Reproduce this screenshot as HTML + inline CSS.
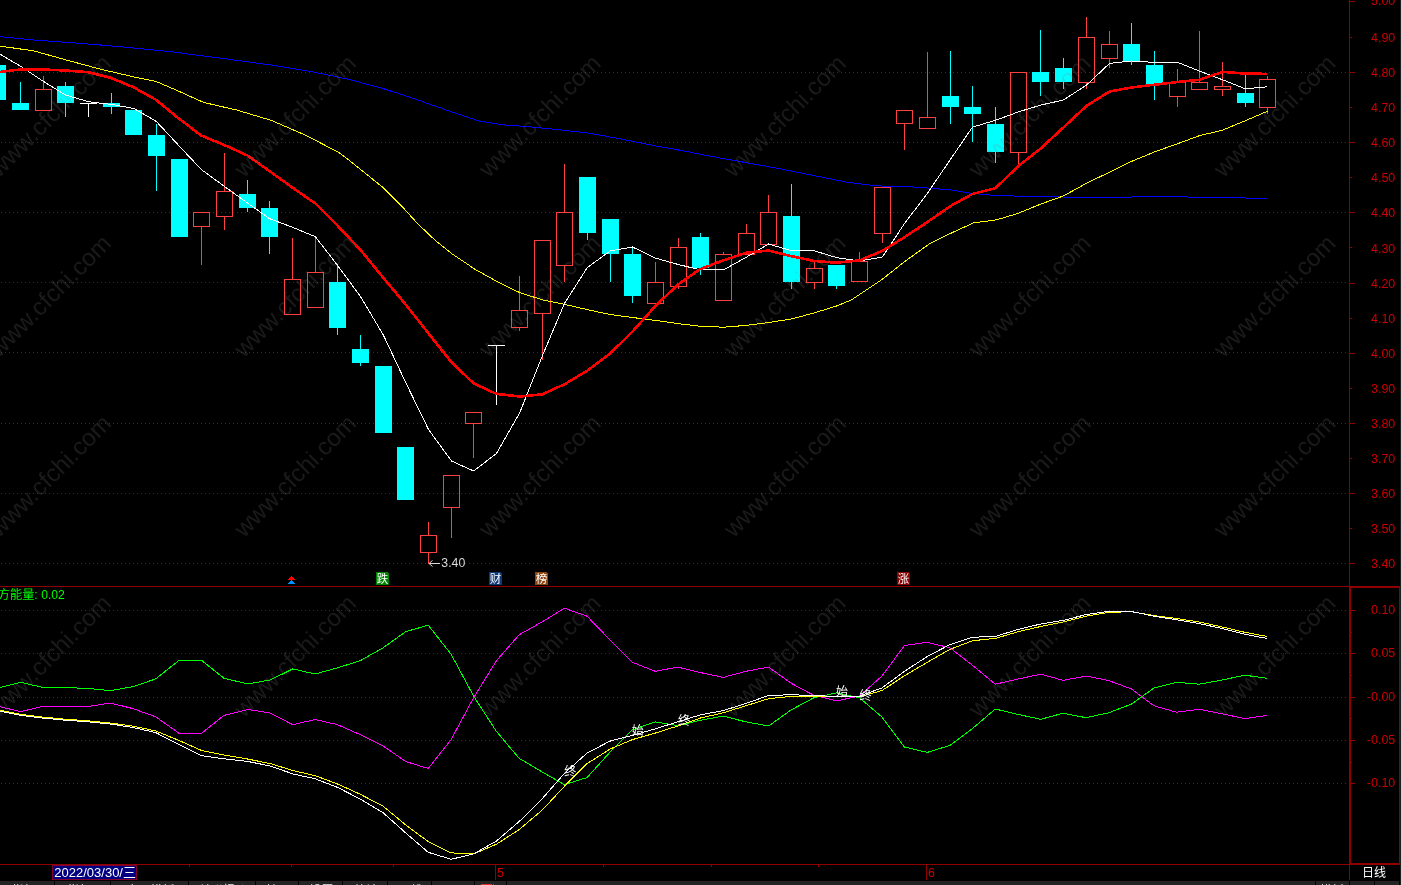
<!DOCTYPE html>
<html lang="zh"><head><meta charset="utf-8"><title>K线图</title>
<style>html,body{margin:0;padding:0;background:#000;width:1401px;height:885px;overflow:hidden}</style></head>
<body>
<svg width="1401" height="885" viewBox="0 0 1401 885" shape-rendering="crispEdges" style="position:absolute;left:0;top:0;font-family:'Liberation Sans','Noto Sans CJK SC',sans-serif">
<rect width="1401" height="885" fill="#000"/>
<g stroke="#a80000" stroke-width="1" stroke-dasharray="1 3">
<line x1="1" x2="1349" y1="72.5" y2="72.5"/>
<line x1="1" x2="1349" y1="142.5" y2="142.5"/>
<line x1="1" x2="1349" y1="212.5" y2="212.5"/>
<line x1="1" x2="1349" y1="282.5" y2="282.5"/>
<line x1="1" x2="1349" y1="352.5" y2="352.5"/>
<line x1="1" x2="1349" y1="423.5" y2="423.5"/>
<line x1="1" x2="1349" y1="493.5" y2="493.5"/>
<line x1="1" x2="1349" y1="563.5" y2="563.5"/>
<line x1="1" x2="1349" y1="610.5" y2="610.5"/>
<line x1="1" x2="1349" y1="653.5" y2="653.5"/>
<line x1="1" x2="1349" y1="697.5" y2="697.5"/>
<line x1="1" x2="1349" y1="740.5" y2="740.5"/>
<line x1="1" x2="1349" y1="783.5" y2="783.5"/>
</g>
<g fill="#900000">
<rect x="1349" y="0" width="1" height="880"/>
<rect x="0" y="586" width="1400" height="1"/>
<rect x="0" y="864" width="1400" height="1"/>
<rect x="1350" y="587" width="1" height="277"/>
<rect x="1350" y="587" width="50" height="1"/>
<rect x="1350" y="863" width="50" height="1"/>
<rect x="1399" y="586" width="1" height="279"/>
<rect x="1350" y="1" width="5" height="1"/>
<rect x="1350" y="37" width="2" height="1"/>
<rect x="1350" y="72" width="5" height="1"/>
<rect x="1350" y="107" width="2" height="1"/>
<rect x="1350" y="142" width="5" height="1"/>
<rect x="1350" y="177" width="2" height="1"/>
<rect x="1350" y="212" width="5" height="1"/>
<rect x="1350" y="247" width="2" height="1"/>
<rect x="1350" y="283" width="5" height="1"/>
<rect x="1350" y="318" width="2" height="1"/>
<rect x="1350" y="353" width="5" height="1"/>
<rect x="1350" y="388" width="2" height="1"/>
<rect x="1350" y="423" width="5" height="1"/>
<rect x="1350" y="458" width="2" height="1"/>
<rect x="1350" y="493" width="5" height="1"/>
<rect x="1350" y="528" width="2" height="1"/>
<rect x="1350" y="563" width="5" height="1"/>
<rect x="1351" y="610" width="4" height="1"/>
<rect x="1351" y="632" width="1" height="1"/>
<rect x="1351" y="653" width="4" height="1"/>
<rect x="1351" y="675" width="1" height="1"/>
<rect x="1351" y="697" width="4" height="1"/>
<rect x="1351" y="718" width="1" height="1"/>
<rect x="1351" y="740" width="4" height="1"/>
<rect x="1351" y="762" width="1" height="1"/>
<rect x="1351" y="783" width="4" height="1"/>
<rect x="189" y="865" width="1" height="2"/>
<rect x="291" y="865" width="1" height="2"/>
<rect x="393" y="865" width="1" height="2"/>
<rect x="603" y="865" width="1" height="2"/>
<rect x="711" y="865" width="1" height="2"/>
<rect x="818" y="865" width="1" height="2"/>
<rect x="495" y="865" width="1" height="15"/>
<rect x="926" y="865" width="1" height="15"/>
</g>
<g fill="#cc0000" font-size="12.5" text-anchor="end" shape-rendering="auto">
<text x="1395.3" y="5.1">5.00</text>
<text x="1395.3" y="41.9">4.90</text>
<text x="1395.3" y="77.0">4.80</text>
<text x="1395.3" y="112.1">4.70</text>
<text x="1395.3" y="147.2">4.60</text>
<text x="1395.3" y="182.3">4.50</text>
<text x="1395.3" y="217.4">4.40</text>
<text x="1395.3" y="252.5">4.30</text>
<text x="1395.3" y="287.6">4.20</text>
<text x="1395.3" y="322.7">4.10</text>
<text x="1395.3" y="357.8">4.00</text>
<text x="1395.3" y="392.9">3.90</text>
<text x="1395.3" y="428.0">3.80</text>
<text x="1395.3" y="463.1">3.70</text>
<text x="1395.3" y="498.2">3.60</text>
<text x="1395.3" y="533.3">3.50</text>
<text x="1395.3" y="568.4">3.40</text>
<text x="1395.3" y="614.2">0.10</text>
<text x="1395.3" y="657.2">0.05</text>
<text x="1395.3" y="701.2">-0.00</text>
<text x="1395.3" y="744.2">-0.05</text>
<text x="1395.3" y="787.2">-0.10</text>
</g>
<g fill="#cc0000" font-size="12.5" shape-rendering="auto"><text x="497" y="876.6">5</text><text x="928" y="876.6">6</text></g>
<rect x="-11" y="65" width="17" height="35" fill="#00ffff"/>
<rect x="20" y="82" width="1" height="28" fill="#00ffff"/>
<rect x="12" y="103" width="17" height="7" fill="#00ffff"/>
<rect x="43" y="76" width="1" height="13" fill="#ff4040"/>
<rect x="35.5" y="89.5" width="16" height="21" fill="none" stroke="#ff4040" stroke-width="1"/>
<rect x="65" y="82" width="1" height="35" fill="#00ffff"/>
<rect x="57" y="86" width="17" height="17" fill="#00ffff"/>
<rect x="80" y="103" width="17" height="1" fill="#ffffff"/>
<rect x="88" y="103" width="1" height="14" fill="#ffffff"/>
<rect x="111" y="93" width="1" height="21" fill="#00ffff"/>
<rect x="103" y="103" width="17" height="4" fill="#00ffff"/>
<rect x="125" y="110" width="17" height="25" fill="#00ffff"/>
<rect x="156" y="124" width="1" height="67" fill="#00ffff"/>
<rect x="148" y="135" width="17" height="21" fill="#00ffff"/>
<rect x="171" y="159" width="17" height="78" fill="#00ffff"/>
<rect x="201" y="227" width="1" height="38" fill="#ff4040"/>
<rect x="193.5" y="212.5" width="16" height="14" fill="none" stroke="#ff4040" stroke-width="1"/>
<rect x="224" y="153" width="1" height="38" fill="#ff4040"/>
<rect x="224" y="217" width="1" height="13" fill="#ff4040"/>
<rect x="216.5" y="191.5" width="16" height="25" fill="none" stroke="#ff4040" stroke-width="1"/>
<rect x="247" y="180" width="1" height="32" fill="#00ffff"/>
<rect x="239" y="194" width="17" height="14" fill="#00ffff"/>
<rect x="269" y="201" width="1" height="53" fill="#00ffff"/>
<rect x="261" y="208" width="17" height="29" fill="#00ffff"/>
<rect x="292" y="238" width="1" height="41" fill="#ff4040"/>
<rect x="284.5" y="279.5" width="16" height="35" fill="none" stroke="#ff4040" stroke-width="1"/>
<rect x="315" y="237" width="1" height="35" fill="#ff4040"/>
<rect x="307.5" y="272.5" width="16" height="35" fill="none" stroke="#ff4040" stroke-width="1"/>
<rect x="337" y="265" width="1" height="70" fill="#00ffff"/>
<rect x="329" y="282" width="17" height="46" fill="#00ffff"/>
<rect x="360" y="335" width="1" height="31" fill="#00ffff"/>
<rect x="352" y="349" width="17" height="14" fill="#00ffff"/>
<rect x="375" y="366" width="17" height="67" fill="#00ffff"/>
<rect x="397" y="447" width="17" height="53" fill="#00ffff"/>
<rect x="428" y="522" width="1" height="13" fill="#ff4040"/>
<rect x="428" y="553" width="1" height="11" fill="#ff4040"/>
<rect x="420.5" y="535.5" width="16" height="17" fill="none" stroke="#ff4040" stroke-width="1"/>
<rect x="451" y="508" width="1" height="30" fill="#ff4040"/>
<rect x="443.5" y="475.5" width="16" height="32" fill="none" stroke="#ff4040" stroke-width="1"/>
<rect x="473" y="424" width="1" height="34" fill="#ff4040"/>
<rect x="465.5" y="412.5" width="16" height="11" fill="none" stroke="#ff4040" stroke-width="1"/>
<rect x="488" y="345" width="17" height="1" fill="#ffffff"/>
<rect x="496" y="345" width="1" height="60" fill="#ffffff"/>
<rect x="519" y="276" width="1" height="34" fill="#ff4040"/>
<rect x="519" y="328" width="1" height="3" fill="#ff4040"/>
<rect x="511.5" y="310.5" width="16" height="17" fill="none" stroke="#ff4040" stroke-width="1"/>
<rect x="542" y="314" width="1" height="46" fill="#ff4040"/>
<rect x="534.5" y="240.5" width="16" height="73" fill="none" stroke="#ff4040" stroke-width="1"/>
<rect x="564" y="164" width="1" height="48" fill="#ff4040"/>
<rect x="564" y="266" width="1" height="16" fill="#ff4040"/>
<rect x="556.5" y="212.5" width="16" height="53" fill="none" stroke="#ff4040" stroke-width="1"/>
<rect x="587" y="177" width="1" height="63" fill="#00ffff"/>
<rect x="579" y="177" width="17" height="56" fill="#00ffff"/>
<rect x="610" y="219" width="1" height="63" fill="#00ffff"/>
<rect x="602" y="219" width="17" height="35" fill="#00ffff"/>
<rect x="632" y="248" width="1" height="55" fill="#00ffff"/>
<rect x="624" y="254" width="17" height="42" fill="#00ffff"/>
<rect x="655" y="262" width="1" height="20" fill="#ff4040"/>
<rect x="647.5" y="282.5" width="16" height="21" fill="none" stroke="#ff4040" stroke-width="1"/>
<rect x="678" y="238" width="1" height="9" fill="#ff4040"/>
<rect x="678" y="287" width="1" height="2" fill="#ff4040"/>
<rect x="670.5" y="247.5" width="16" height="39" fill="none" stroke="#ff4040" stroke-width="1"/>
<rect x="700" y="233" width="1" height="42" fill="#00ffff"/>
<rect x="692" y="237" width="17" height="31" fill="#00ffff"/>
<rect x="723" y="252" width="1" height="2" fill="#ff4040"/>
<rect x="715.5" y="254.5" width="16" height="46" fill="none" stroke="#ff4040" stroke-width="1"/>
<rect x="746" y="224" width="1" height="9" fill="#ff4040"/>
<rect x="738.5" y="233.5" width="16" height="21" fill="none" stroke="#ff4040" stroke-width="1"/>
<rect x="768" y="195" width="1" height="17" fill="#ff4040"/>
<rect x="760.5" y="212.5" width="16" height="32" fill="none" stroke="#ff4040" stroke-width="1"/>
<rect x="791" y="184" width="1" height="105" fill="#00ffff"/>
<rect x="783" y="216" width="17" height="66" fill="#00ffff"/>
<rect x="814" y="261" width="1" height="7" fill="#ff4040"/>
<rect x="814" y="283" width="1" height="6" fill="#ff4040"/>
<rect x="806.5" y="268.5" width="16" height="14" fill="none" stroke="#ff4040" stroke-width="1"/>
<rect x="836" y="265" width="1" height="24" fill="#00ffff"/>
<rect x="828" y="265" width="17" height="21" fill="#00ffff"/>
<rect x="859" y="252" width="1" height="9" fill="#ff4040"/>
<rect x="851.5" y="261.5" width="16" height="20" fill="none" stroke="#ff4040" stroke-width="1"/>
<rect x="882" y="234" width="1" height="9" fill="#ff4040"/>
<rect x="874.5" y="187.5" width="16" height="46" fill="none" stroke="#ff4040" stroke-width="1"/>
<rect x="904" y="124" width="1" height="26" fill="#ff4040"/>
<rect x="896.5" y="110.5" width="16" height="13" fill="none" stroke="#ff4040" stroke-width="1"/>
<rect x="927" y="52" width="1" height="65" fill="#ff4040"/>
<rect x="919.5" y="117.5" width="16" height="11" fill="none" stroke="#ff4040" stroke-width="1"/>
<rect x="950" y="51" width="1" height="73" fill="#00ffff"/>
<rect x="942" y="96" width="17" height="11" fill="#00ffff"/>
<rect x="972" y="86" width="1" height="56" fill="#00ffff"/>
<rect x="964" y="107" width="17" height="7" fill="#00ffff"/>
<rect x="995" y="107" width="1" height="56" fill="#00ffff"/>
<rect x="987" y="124" width="17" height="28" fill="#00ffff"/>
<rect x="1018" y="153" width="1" height="13" fill="#ff4040"/>
<rect x="1010.5" y="72.5" width="16" height="80" fill="none" stroke="#ff4040" stroke-width="1"/>
<rect x="1040" y="30" width="1" height="66" fill="#00ffff"/>
<rect x="1032" y="72" width="17" height="10" fill="#00ffff"/>
<rect x="1063" y="58" width="1" height="31" fill="#00ffff"/>
<rect x="1055" y="68" width="17" height="14" fill="#00ffff"/>
<rect x="1086" y="17" width="1" height="20" fill="#ff4040"/>
<rect x="1086" y="83" width="1" height="6" fill="#ff4040"/>
<rect x="1078.5" y="37.5" width="16" height="45" fill="none" stroke="#ff4040" stroke-width="1"/>
<rect x="1109" y="31" width="1" height="13" fill="#ff4040"/>
<rect x="1109" y="59" width="1" height="9" fill="#ff4040"/>
<rect x="1101.5" y="44.5" width="16" height="14" fill="none" stroke="#ff4040" stroke-width="1"/>
<rect x="1131" y="23" width="1" height="42" fill="#00ffff"/>
<rect x="1123" y="44" width="17" height="17" fill="#00ffff"/>
<rect x="1154" y="51" width="1" height="49" fill="#00ffff"/>
<rect x="1146" y="65" width="17" height="20" fill="#00ffff"/>
<rect x="1177" y="69" width="1" height="13" fill="#ff4040"/>
<rect x="1177" y="97" width="1" height="10" fill="#ff4040"/>
<rect x="1169.5" y="82.5" width="16" height="14" fill="none" stroke="#ff4040" stroke-width="1"/>
<rect x="1199" y="31" width="1" height="51" fill="#ff4040"/>
<rect x="1191.5" y="82.5" width="16" height="7" fill="none" stroke="#ff4040" stroke-width="1"/>
<rect x="1222" y="62" width="1" height="24" fill="#ff4040"/>
<rect x="1222" y="90" width="1" height="6" fill="#ff4040"/>
<rect x="1214.5" y="86.5" width="16" height="3" fill="none" stroke="#ff4040" stroke-width="1"/>
<rect x="1245" y="75" width="1" height="32" fill="#00ffff"/>
<rect x="1237" y="93" width="17" height="10" fill="#00ffff"/>
<rect x="1267" y="76" width="1" height="3" fill="#ff4040"/>
<rect x="1267" y="108" width="1" height="6" fill="#ff4040"/>
<rect x="1259.5" y="79.5" width="16" height="28" fill="none" stroke="#ff4040" stroke-width="1"/>
<polyline points="0.0,36.6 33.9,40.0 67.8,42.4 101.7,45.1 135.6,48.2 169.5,51.5 203.5,56.0 237.4,60.4 271.3,65.1 305.2,70.5 339.0,77.3 350.0,79.7 383.9,88.8 417.8,100.0 451.7,111.9 478.9,121.0 502.6,124.8 526.3,126.5 553.5,129.2 587.4,132.9 621.3,139.0 655.2,145.8 689.1,151.9 700.0,154.3 780.0,168.8 813.9,175.6 847.8,182.4 874.9,185.8 915.6,187.1 949.5,189.8 969.8,193.2 997.0,195.6 1037.6,196.6 1100.0,197.6 1168.5,196.3 1195.6,197.3 1267.5,198.3" fill="none" stroke="#0000ff" stroke-width="1" stroke-linejoin="round"/>
<polyline points="0.0,46.1 33.9,50.9 67.8,60.4 101.7,69.5 135.6,77.3 156.0,81.4 179.7,91.6 203.5,102.4 237.4,110.2 271.3,120.4 305.2,135.0 339.0,152.6 350.0,161.0 383.9,188.2 400.9,205.2 417.8,223.8 434.8,240.0 451.7,253.6 475.5,269.6 495.8,280.8 519.4,292.5 542.6,299.9 564.4,304.3 587.3,309.6 610.5,314.6 632.5,317.5 655.4,320.4 678.7,323.7 700.4,326.3 723.6,327.2 746.2,325.4 768.6,322.5 791.5,319.0 813.9,313.0 836.6,306.0 851.2,300.0 881.7,279.7 905.4,261.0 929.2,244.0 949.5,233.9 973.2,223.0 997.0,219.7 1017.3,213.6 1041.0,204.0 1063.4,196.0 1087.0,183.0 1109.5,172.2 1131.5,161.4 1154.6,151.9 1177.6,143.7 1199.7,135.6 1222.4,130.2 1245.4,120.7 1267.5,111.2" fill="none" stroke="#ffff00" stroke-width="1" stroke-linejoin="round"/>
<polyline points="0.0,54.2 20.3,66.1 43.4,81.4 65.4,95.0 88.5,101.7 111.2,104.4 134.0,108.5 156.3,121.4 179.0,145.8 201.4,169.6 224.5,186.5 247.2,202.8 269.6,218.7 292.3,227.2 315.4,236.7 337.5,265.3 360.1,296.0 383.3,334.9 405.7,382.5 428.5,429.5 451.6,461.1 473.7,471.0 496.5,453.4 519.6,413.1 542.5,355.5 564.4,303.6 587.3,267.5 610.5,250.8 632.5,247.0 655.4,258.1 678.7,264.6 700.4,269.9 723.6,269.9 746.2,257.3 768.6,244.0 791.5,250.8 814.2,250.8 836.6,257.6 859.7,261.0 882.4,257.0 904.4,223.7 927.5,193.2 950.5,159.3 972.5,127.1 995.6,120.3 1018.3,111.9 1040.7,105.1 1063.4,100.0 1086.4,85.2 1109.5,63.4 1131.5,61.0 1154.6,62.4 1177.6,62.4 1199.7,71.2 1222.4,79.7 1245.4,88.8 1267.5,86.8" fill="none" stroke="#ffffff" stroke-width="1" stroke-linejoin="round"/>
<polyline points="0.0,71.9 20.3,69.5 43.4,69.5 65.4,70.5 88.5,72.2 111.2,78.0 134.0,87.5 156.3,100.0 179.0,118.7 201.4,135.6 224.5,145.1 247.2,155.3 269.6,171.2 292.3,187.5 315.4,203.5 337.4,225.5 360.4,249.8 383.0,277.4 402.6,300.8 416.6,318.2 428.5,333.5 451.6,362.3 473.7,383.4 496.5,393.9 519.6,396.5 542.4,394.3 564.4,384.3 587.3,370.7 610.5,353.2 632.5,331.6 655.4,306.0 678.7,284.0 700.4,269.0 723.6,260.2 746.2,252.8 768.6,250.5 791.5,256.2 814.2,261.0 836.6,262.7 859.7,260.3 882.4,250.8 904.4,237.3 927.5,222.0 950.5,206.1 972.5,193.9 995.6,188.1 1018.3,166.1 1040.7,148.5 1063.4,127.5 1086.4,106.0 1109.5,91.5 1131.5,87.5 1154.6,84.7 1177.6,82.0 1199.7,79.7 1222.4,71.9 1245.4,73.6 1267.5,73.9" fill="none" stroke="#ff0000" stroke-width="2.6" stroke-linejoin="round"/>
<polyline points="0.0,687.5 20.7,682.3 43.0,687.5 65.4,687.5 88.9,688.5 110.2,690.6 132.6,686.8 155.7,678.9 179.1,660.3 201.5,660.3 223.9,678.2 248.0,684.0 270.4,679.9 292.8,668.9 315.2,674.0 337.6,667.8 360.3,660.7 383.1,647.8 405.7,631.7 428.2,625.2 451.1,654.2 473.6,696.1 496.5,731.5 519.0,758.2 541.9,771.8 564.4,784.6 587.0,777.6 609.8,752.4 632.4,729.9 655.2,721.8 677.8,725.7 700.6,720.2 723.2,716.1 746.0,721.9 768.6,726.0 791.1,709.9 814.0,697.7 836.5,692.9 859.4,697.7 881.9,717.0 904.5,747.0 927.3,752.4 949.9,745.4 972.7,728.3 995.3,709.0 1018.1,714.4 1040.7,719.3 1063.2,713.2 1086.0,717.7 1108.6,712.8 1131.5,704.1 1154.0,688.0 1176.5,682.3 1199.4,684.2 1222.0,680.0 1244.8,675.2 1267.4,678.4" fill="none" stroke="#00ff00" stroke-width="1" stroke-linejoin="round"/>
<polyline points="0.0,706.8 20.7,711.6 43.0,706.4 65.4,706.4 88.9,706.4 110.2,703.0 132.6,708.5 155.7,716.8 179.1,733.3 201.5,733.3 223.9,715.4 248.0,709.5 270.4,713.0 292.8,724.7 315.2,719.5 337.6,724.7 360.3,734.7 383.1,746.0 405.7,761.5 428.2,768.5 451.1,739.6 473.6,697.7 496.5,660.7 519.0,634.9 541.9,622.0 564.4,608.2 587.0,616.2 609.8,639.7 632.4,662.3 655.2,671.3 677.8,667.1 700.6,672.6 723.2,677.4 746.0,671.3 768.6,667.1 791.1,683.2 814.0,695.4 836.5,700.9 859.4,696.1 881.9,676.1 904.5,645.5 927.3,642.3 949.9,647.8 972.7,665.5 995.3,684.2 1018.1,679.0 1040.7,674.2 1063.2,680.3 1086.0,676.1 1108.6,680.6 1131.5,689.0 1154.0,705.8 1176.5,712.2 1199.4,709.3 1222.0,713.8 1244.8,718.6 1267.4,715.4" fill="none" stroke="#ff00ff" stroke-width="1" stroke-linejoin="round"/>
<polyline points="0.0,710.2 20.7,714.3 43.0,717.1 65.4,719.2 88.9,720.9 110.2,723.0 132.6,726.1 155.7,730.9 179.1,740.5 201.5,750.5 223.9,755.0 248.0,759.1 270.4,763.6 292.8,770.5 315.2,775.7 337.6,784.0 360.3,794.3 383.1,806.2 405.7,824.9 428.2,841.6 451.1,852.9 473.6,853.9 496.5,844.2 519.0,829.7 541.9,810.4 564.4,786.3 587.0,763.7 609.8,749.2 632.4,739.6 655.2,733.1 677.8,726.0 700.6,718.0 723.2,712.8 746.0,705.7 768.6,698.7 791.1,696.4 814.0,696.1 836.5,696.7 859.4,696.7 881.9,690.6 904.5,675.8 927.3,662.3 949.9,649.4 972.7,640.7 995.3,638.4 1018.1,631.7 1040.7,626.5 1063.2,622.0 1086.0,616.2 1108.6,612.4 1131.5,611.7 1154.0,615.6 1176.5,618.5 1199.4,622.0 1222.0,626.9 1244.8,632.3 1267.4,636.5" fill="none" stroke="#ffff00" stroke-width="1" stroke-linejoin="round"/>
<polyline points="0.0,711.2 20.7,715.4 43.0,718.1 65.4,720.2 88.9,721.9 110.2,724.0 132.6,727.4 155.7,732.6 179.1,744.7 201.5,755.7 223.9,758.8 248.0,761.5 270.4,766.0 292.8,773.9 315.2,778.8 337.6,787.4 360.3,799.1 383.1,812.7 405.7,832.9 428.2,852.3 451.1,859.3 473.6,853.9 496.5,841.0 519.0,821.7 541.9,799.1 564.4,773.4 587.0,753.1 609.8,741.2 632.4,735.4 655.2,728.9 677.8,721.8 700.6,714.8 723.2,710.6 746.0,703.5 768.6,695.4 791.1,694.8 814.0,695.4 836.5,696.7 859.4,696.1 881.9,688.0 904.5,671.3 927.3,656.5 949.9,644.6 972.7,637.2 995.3,636.5 1018.1,629.4 1040.7,624.0 1063.2,620.4 1086.0,614.6 1108.6,611.4 1131.5,611.4 1154.0,616.2 1176.5,619.8 1199.4,623.6 1222.0,628.5 1244.8,634.3 1267.4,638.5" fill="none" stroke="#ffffff" stroke-width="1" stroke-linejoin="round"/>
<g shape-rendering="auto"><path d="M429 563.5H440M429 563.5l3.5-3M429 563.5l3.5 3" stroke="#d8d8d8" stroke-width="1" fill="none"/><text x="441.3" y="567.2" font-size="12.3" fill="#d8d8d8">3.40</text></g>
<path d="M291 576h1v1h1v1h1v1h1v1h-7v-1h1v-1h1v-1h1z" fill="#ff0000"/>
<path d="M291 580h1v1h1v1h1v1h1v1h-7v-1h1v-1h1v-1h1z" fill="#0090ff"/>
<path d="M376 572h11l2 2v11h-13z" fill="#008000"/>
<text x="382.5" y="582.6" font-size="11.5" fill="#fff" text-anchor="middle" shape-rendering="auto">跌</text>
<path d="M489 572h11l2 2v11h-13z" fill="#103878"/>
<text x="495.5" y="582.6" font-size="11.5" fill="#fff" text-anchor="middle" shape-rendering="auto">财</text>
<path d="M535 572h11l2 2v11h-13z" fill="#8b4513"/>
<text x="541.5" y="582.6" font-size="11.5" fill="#fff" text-anchor="middle" shape-rendering="auto">榜</text>
<path d="M897 572h11l2 2v11h-13z" fill="#8b0000"/>
<text x="903.5" y="582.6" font-size="11.5" fill="#fff" text-anchor="middle" shape-rendering="auto">涨</text>
<g font-size="12" fill="#fff" text-anchor="middle" shape-rendering="auto">
<text x="570.2" y="776.3">终</text>
<text x="637.8" y="735.0">始</text>
<text x="683.9" y="724.7">终</text>
<text x="842" y="695.8">始</text>
<text x="865.5" y="699.9">终</text>
</g>
<text x="-2.2" y="599.3" font-size="12.2" fill="#00ff00" shape-rendering="auto">方能量: 0.02</text>
<rect x="52.5" y="865.5" width="84" height="14" fill="#000080" stroke="#800030" stroke-width="1"/>
<text x="54.3" y="876.8" font-size="13" fill="#fff" shape-rendering="auto">2022/03/30/三</text>
<text x="1362" y="877.3" font-size="12" fill="#fff" shape-rendering="auto">日线</text>
<rect x="0" y="881" width="1401" height="4" fill="#242424"/>
<rect x="54" y="881" width="1" height="4" fill="#000"/>
<rect x="110" y="881" width="1" height="4" fill="#000"/>
<rect x="188" y="881" width="1" height="4" fill="#000"/>
<rect x="255" y="881" width="1" height="4" fill="#000"/>
<rect x="298" y="881" width="1" height="4" fill="#000"/>
<rect x="342" y="881" width="1" height="4" fill="#000"/>
<rect x="387" y="881" width="1" height="4" fill="#000"/>
<rect x="431" y="881" width="1" height="4" fill="#000"/>
<rect x="474" y="881" width="1" height="4" fill="#000"/>
<rect x="506" y="881" width="1" height="4" fill="#000"/>
<rect x="1315" y="881" width="1" height="4" fill="#000"/>
<rect x="1349" y="881" width="1" height="4" fill="#000"/>
<rect x="1374" y="881" width="1" height="4" fill="#000"/>
<rect x="1399" y="881" width="1" height="4" fill="#000"/>
<g font-size="12" fill="#e8e8e8" shape-rendering="auto">
<text x="28.0" y="894.6" text-anchor="middle">指标A</text>
<text x="83.5" y="894.6" text-anchor="middle">指标B</text>
<text x="150.5" y="894.6" text-anchor="middle">窗口模板</text>
<text x="223.0" y="894.6" text-anchor="middle">关联报价</text>
<text x="278.0" y="894.6" text-anchor="middle">扩展</text>
<text x="321.5" y="894.6" text-anchor="middle">设置</text>
<text x="366.0" y="894.6" text-anchor="middle">统计</text>
<text x="410.5" y="894.6" text-anchor="middle">画线</text>
<text x="454.0" y="894.6" text-anchor="middle">F10</text>
<text x="491.5" y="894.6" text-anchor="middle">标记</text>
<text x="1332" y="894.6" text-anchor="middle">模板</text>
</g>
<rect x="481" y="884" width="11" height="1" fill="#e03030"/>
<rect x="1400" y="0" width="1" height="885" fill="#1e1e1e"/>
<g font-size="24.3" fill="#808080" fill-opacity="0.20" shape-rendering="auto" font-family="&quot;Liberation Sans&quot;,sans-serif">
<text transform="translate(-1.0 178.5) rotate(-45)">www.cfchi.com</text>
<text transform="translate(243.9 178.5) rotate(-45)">www.cfchi.com</text>
<text transform="translate(488.8 178.5) rotate(-45)">www.cfchi.com</text>
<text transform="translate(733.7 178.5) rotate(-45)">www.cfchi.com</text>
<text transform="translate(978.6 178.5) rotate(-45)">www.cfchi.com</text>
<text transform="translate(1223.5 178.5) rotate(-45)">www.cfchi.com</text>
<text transform="translate(-1.0 358.5) rotate(-45)">www.cfchi.com</text>
<text transform="translate(243.9 358.5) rotate(-45)">www.cfchi.com</text>
<text transform="translate(488.8 358.5) rotate(-45)">www.cfchi.com</text>
<text transform="translate(733.7 358.5) rotate(-45)">www.cfchi.com</text>
<text transform="translate(978.6 358.5) rotate(-45)">www.cfchi.com</text>
<text transform="translate(1223.5 358.5) rotate(-45)">www.cfchi.com</text>
<text transform="translate(-1.0 538.5) rotate(-45)">www.cfchi.com</text>
<text transform="translate(243.9 538.5) rotate(-45)">www.cfchi.com</text>
<text transform="translate(488.8 538.5) rotate(-45)">www.cfchi.com</text>
<text transform="translate(733.7 538.5) rotate(-45)">www.cfchi.com</text>
<text transform="translate(978.6 538.5) rotate(-45)">www.cfchi.com</text>
<text transform="translate(1223.5 538.5) rotate(-45)">www.cfchi.com</text>
<text transform="translate(-1.0 718.5) rotate(-45)">www.cfchi.com</text>
<text transform="translate(243.9 718.5) rotate(-45)">www.cfchi.com</text>
<text transform="translate(488.8 718.5) rotate(-45)">www.cfchi.com</text>
<text transform="translate(733.7 718.5) rotate(-45)">www.cfchi.com</text>
<text transform="translate(978.6 718.5) rotate(-45)">www.cfchi.com</text>
<text transform="translate(1223.5 718.5) rotate(-45)">www.cfchi.com</text>
</g>
</svg>
</body></html>
